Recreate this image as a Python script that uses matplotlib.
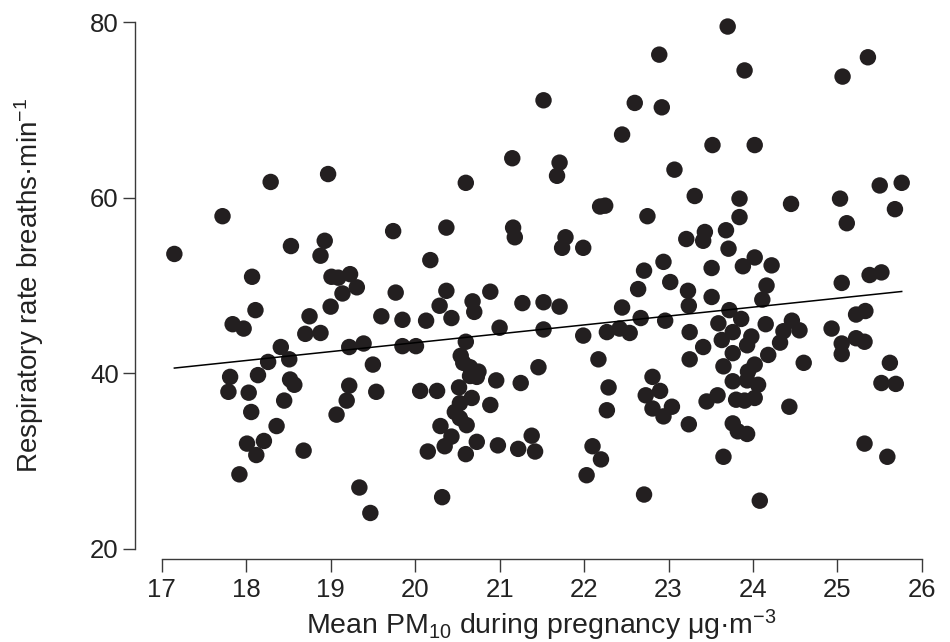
import matplotlib
matplotlib.use("Agg")
from matplotlib import pyplot as plt
from matplotlib import font_manager
import numpy as np

# mean PM10 during pregnancy (ug/m3) and respiratory rate (breaths/min)
pm10 = [
    18.97, 18.29, 17.72, 19.74, 18.53, 18.93, 18.88, 17.15, 18.07, 19.01,
    19.09, 19.23, 19.31, 19.14, 19.77, 18.11, 19.00, 18.75, 19.60, 19.85,
    17.84, 17.97, 18.70, 18.88, 18.41, 19.22, 19.39, 19.85, 18.26, 18.51,
    19.50, 17.81, 18.14, 18.52, 18.57, 17.79, 18.03, 19.22, 19.54, 18.45,
    19.19, 18.06, 19.07, 18.36, 18.01, 18.21, 18.12, 18.68, 17.92, 19.34,
    19.47, 21.15, 21.71, 21.68, 20.60, 22.19, 22.25, 22.75, 20.37, 21.16,
    21.18, 21.78, 21.74, 21.99, 20.18, 22.94, 22.71, 20.37, 20.89, 22.64,
    20.29, 20.68, 20.70, 21.27, 21.52, 21.71, 22.45, 20.13, 20.43, 21.00,
    21.52, 22.67, 21.99, 22.27, 22.42, 22.54, 20.01, 20.60, 22.17, 21.46,
    20.54, 20.57, 20.65, 20.75, 20.73, 20.65, 20.52, 20.96, 21.25, 20.06,
    20.26, 20.67, 20.53, 20.47, 20.89, 20.53, 20.61, 20.30, 20.43, 20.35,
    20.73, 20.98, 21.38, 21.42, 21.22, 20.15, 20.60, 20.32, 22.29, 22.27,
    22.10, 22.20, 22.03, 22.81, 22.73, 22.81, 22.71, 21.52, 22.89, 22.60,
    22.92, 22.45, 23.70, 25.36, 25.06, 23.90, 23.52, 24.02, 23.07, 23.31,
    23.84, 23.84, 24.45, 25.03, 25.50, 25.76, 25.68, 25.11, 23.21, 23.43,
    23.41, 23.68, 23.71, 23.02, 23.23, 23.24, 23.51, 23.88, 24.02, 24.22,
    24.16, 24.11, 23.51, 22.96, 23.72, 23.86, 23.59, 24.15, 23.25, 23.76,
    24.46, 24.36, 24.55, 24.32, 23.63, 23.98, 23.93, 23.41, 23.76, 24.18,
    23.25, 23.65, 24.02, 23.94, 23.93, 24.06, 24.60, 25.05, 25.38, 25.52,
    24.93, 25.22, 25.33, 25.05, 25.05, 25.22, 25.32, 25.62, 25.52, 25.69,
    22.90, 22.94, 23.04, 23.24, 23.45, 23.58, 23.76, 23.80, 23.90, 24.02,
    23.76, 23.82, 23.93, 23.65, 24.43, 24.08, 25.32, 25.59,
]
resp_rate = [
    62.7, 61.8, 57.9, 56.2, 54.5, 55.1, 53.4, 53.6, 51.0, 51.0,
    50.9, 51.3, 49.8, 49.1, 49.2, 47.2, 47.6, 46.5, 46.5, 46.1,
    45.6, 45.1, 44.5, 44.6, 43.0, 43.0, 43.4, 43.1, 41.3, 41.6,
    41.0, 39.6, 39.8, 39.3, 38.7, 37.9, 37.8, 38.6, 37.9, 36.9,
    36.9, 35.6, 35.3, 34.0, 32.0, 32.3, 30.7, 31.2, 28.5, 27.0,
    24.1, 64.5, 64.0, 62.5, 61.7, 59.0, 59.1, 57.9, 56.6, 56.6,
    55.5, 55.5, 54.3, 54.3, 52.9, 52.7, 51.7, 49.4, 49.3, 49.6,
    47.7, 48.2, 47.0, 48.0, 48.1, 47.6, 47.5, 46.0, 46.3, 45.2,
    45.0, 46.3, 44.3, 44.7, 45.1, 44.6, 43.1, 43.6, 41.6, 40.7,
    42.0, 41.2, 40.7, 40.2, 39.6, 39.7, 38.4, 39.2, 38.9, 38.0,
    38.0, 37.2, 36.6, 35.6, 36.4, 34.9, 34.1, 34.0, 32.8, 31.7,
    32.2, 31.8, 32.9, 31.1, 31.4, 31.1, 30.8, 25.9, 38.4, 35.8,
    31.7, 30.2, 28.4, 39.6, 37.5, 36.0, 26.2, 71.1, 76.3, 70.8,
    70.3, 67.2, 79.5, 76.0, 73.8, 74.5, 66.0, 66.0, 63.2, 60.2,
    59.9, 57.8, 59.3, 59.9, 61.4, 61.7, 58.7, 57.1, 55.3, 56.1,
    55.1, 56.3, 54.2, 50.4, 49.4, 47.7, 52.0, 52.2, 53.2, 52.3,
    50.0, 48.4, 48.7, 46.0, 47.2, 46.2, 45.7, 45.6, 44.7, 44.7,
    46.0, 44.8, 44.9, 43.5, 43.8, 44.2, 43.2, 43.0, 42.3, 42.1,
    41.6, 40.8, 41.0, 40.2, 39.2, 38.7, 41.2, 50.3, 51.2, 51.5,
    45.1, 46.7, 47.1, 43.4, 42.2, 44.0, 43.6, 41.2, 38.9, 38.8,
    38.0, 35.1, 36.2, 34.2, 36.8, 37.5, 39.1, 37.0, 36.9, 37.2,
    34.3, 33.4, 33.1, 30.5, 36.2, 25.5, 32.0, 30.5,
]

# fitted regression line
fit_intercept = 23.23
fit_slope = 1.013

x_ticks = [17, 18, 19, 20, 21, 22, 23, 24, 25, 26]
y_ticks = [20, 40, 60, 80]


def pick_font(names):
    installed = {f.name for f in font_manager.fontManager.ttflist}
    for name in names:
        if name in installed:
            return name
    return 'DejaVu Sans'


regular = pick_font(['Liberation Sans', 'Arial', 'DejaVu Sans'])
narrow = pick_font(['Liberation Sans Narrow', 'Arial Narrow', regular])

plt.rcParams['font.family'] = [regular, 'DejaVu Sans']
plt.rcParams['mathtext.default'] = 'regular'

axis_color = '#3a3a3a'
dot_color = '#231f20'
text_color = '#222222'

fig = plt.figure(figsize=(9.5, 6.42), dpi=100)
ax = fig.add_axes([0.1702, 0.1449, 0.8003, 0.8206])

ax.scatter(pm10, resp_rate, s=140, color=dot_color, edgecolors='none', zorder=3, clip_on=False)

line_x = np.array([min(pm10), max(pm10)])
ax.plot(line_x, fit_intercept + fit_slope * line_x, color='black', lw=1.1, zorder=4)

ax.set_xlim(17, 26)
ax.set_ylim(20, 80)
ax.set_xticks(x_ticks)
ax.set_yticks(y_ticks)

for side in ['top', 'right']:
    ax.spines[side].set_visible(False)
ax.spines['left'].set_position(('outward', 19))
ax.spines['bottom'].set_position(('outward', 7.2))
ax.spines['left'].set_bounds(20, 80)
ax.spines['bottom'].set_bounds(17, 26)
for side in ['left', 'bottom']:
    ax.spines[side].set_color(axis_color)
    ax.spines[side].set_linewidth(1.0)

ax.tick_params(axis='both', length=9, width=1.0, color=axis_color, labelcolor=text_color)
ax.tick_params(axis='y', pad=3, labelsize=18.5)
ax.tick_params(axis='x', pad=5, labelsize=18.5)
for lbl in ax.get_xticklabels():
    lbl.set_fontfamily(narrow)

ax.set_ylabel('Respiratory rate breaths·min$^{-1}$', fontsize=20, color=text_color)
ax.yaxis.set_label_coords(-0.152, 0.5)
ax.set_xlabel('Mean PM$_{10}$ during pregnancy μg·m$^{-3}$', fontsize=20.5, color=text_color,
              fontfamily=narrow, labelpad=4)

fig.savefig('out.png', dpi=100, facecolor='white')
